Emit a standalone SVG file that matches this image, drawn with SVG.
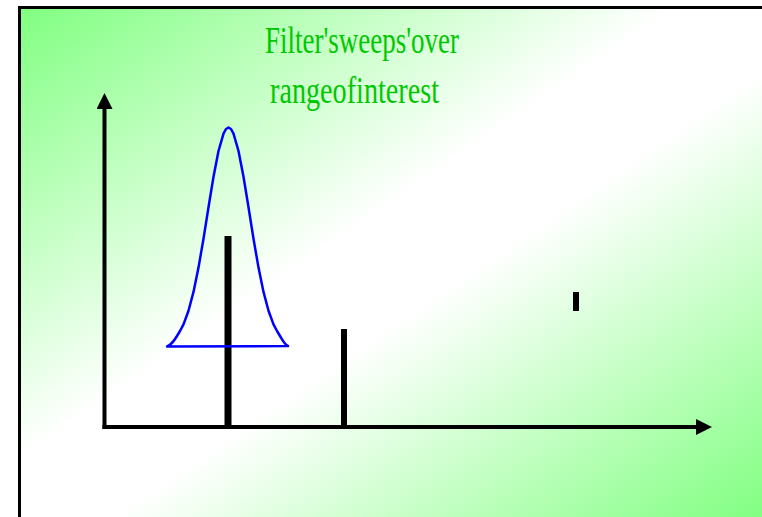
<svg xmlns="http://www.w3.org/2000/svg" width="762" height="517" viewBox="0 0 762 517">
<defs>
<linearGradient id="bg" x1="0" y1="0" x2="1" y2="1">
<stop offset="0" stop-color="#80FF80"/>
<stop offset="0.44" stop-color="#FFFFFF"/>
<stop offset="0.56" stop-color="#FFFFFF"/>
<stop offset="1" stop-color="#80FF80"/>
</linearGradient>
<marker id="arr" markerUnits="userSpaceOnUse" markerWidth="16" markerHeight="16" refX="2" refY="8" orient="auto">
<path d="M0,0 L16,8 L0,16 Z" fill="#000"/>
</marker>
<style>
.axis{stroke:#000;stroke-width:4;fill:none;marker-end:url(#arr)}
.bar{fill:#000}
.lbl{font-family:"Liberation Serif","Times New Roman",serif;font-size:37px;fill:#00C800}
.curve{fill:none;stroke:#0000FF;stroke-width:2.5;stroke-linejoin:round}
</style>
</defs>
<rect width="762" height="517" fill="#FFFFFF"/>
<rect id="frame" x="19.5" y="7.5" width="746" height="513" fill="url(#bg)" stroke="#000" stroke-width="3"/>
<g id="title">
<text class="lbl" x="265" y="53" textLength="194" lengthAdjust="spacingAndGlyphs">Filter'sweeps'over</text>
<text class="lbl" x="270" y="102.5" textLength="169" lengthAdjust="spacingAndGlyphs">rangeofinterest</text>
</g>
<g id="connectors">
<line class="axis" x1="104.5" y1="429" x2="104.5" y2="107"/>
<line class="axis" x1="102.5" y1="427" x2="698" y2="427"/>
</g>
<g id="bar1"><rect class="bar" x="224.5" y="236" width="7" height="191"/></g>
<g id="bar2"><rect class="bar" x="341" y="329" width="6" height="98"/></g>
<g id="bar3"><rect class="bar" x="573" y="292" width="6" height="19"/></g>
<g id="filter">
<path class="curve" d="M167,346.5 C171,345 174,341 177,336 L180,331 L183.5,324.4 L188.5,310.8 L193.5,291.9 L198.5,267.6 L203.5,238.7 L208.5,207.3 L213.5,176.8 L218.5,151 L223.5,133.6 L226,129 L228.5,127.5 L231,129 L233.5,133.6 L238.5,151 L243.5,176.8 L248.5,207.3 L253.5,238.7 L258.5,267.6 L263.5,291.9 L268.5,310.8 L273.5,324.4 L277,331 L280,336 C283,341 285,345 288,346 Z"/>
</g>
</svg>
